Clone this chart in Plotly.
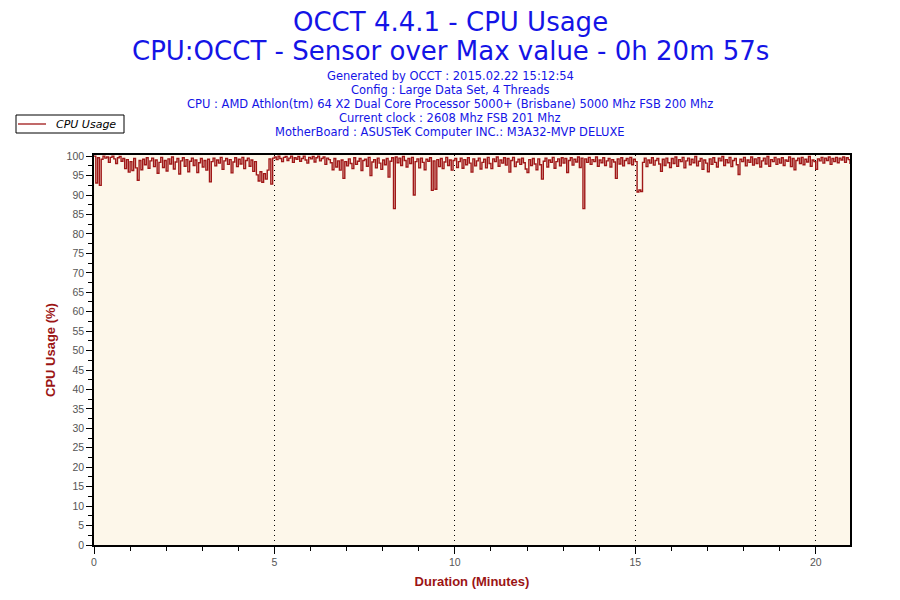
import plotly.graph_objects as go

# CPU usage samples (%), one every 3 seconds over 0h 20m 57s
sample_seconds = 3
cpu_usage = [
    100, 93.1, 99.6, 92.5, 99.2, 100, 99.5, 99.8, 98.4, 99.7, 100, 99.3, 98.1, 99.6, 99.9, 98.7, 99.4, 96.8, 99.1, 95.9,
    98.6, 96.3, 99.4, 97.0, 93.8, 98.9, 96.5, 99.2, 97.8, 99.6, 96.9, 98.8, 99.5, 97.3, 99.0, 95.6, 98.4, 99.7, 97.1, 98.9,
    96.2, 99.3, 98.0, 99.8, 96.7, 98.5, 99.4, 95.4, 98.8, 99.6, 97.4, 99.1, 96.0, 98.7, 99.5, 97.6, 99.0, 95.8, 98.3, 99.4,
    97.2, 98.9, 96.4, 99.2, 93.4, 98.6, 99.5, 97.5, 99.0, 98.2, 99.7, 96.6, 98.8, 99.4, 97.9, 99.1, 95.7, 98.5, 99.6, 97.3,
    99.2, 98.0, 99.7, 96.8, 98.9, 99.5, 97.4, 99.0, 96.1, 98.6, 95.2, 93.6, 96.0, 93.3, 95.5, 94.1, 96.4, 99.3, 92.8, 99.5,
    99.8, 99.1, 100, 99.4, 98.6, 99.7, 99.9, 98.9, 99.5, 100, 98.4, 99.6, 99.2, 99.9, 98.7, 99.4, 100, 99.0, 98.2, 99.7,
    99.3, 99.9, 98.5, 99.6, 100, 98.8, 99.4, 99.8, 97.9, 99.5, 99.1, 98.3, 96.5, 99.4, 97.2, 98.8, 96.4, 99.0, 94.3, 98.6,
    97.5, 99.3, 98.1, 96.8, 99.6, 97.9, 98.7, 99.4, 96.3, 98.9, 99.2, 97.4, 99.7, 95.0, 98.5, 99.1, 97.0, 99.5, 98.2, 96.6,
    99.0, 97.8, 99.4, 94.6, 98.7, 99.6, 86.5, 99.8, 98.3, 99.5, 97.6, 99.9, 98.9, 97.2, 99.4, 98.1, 99.7, 90.0, 98.6, 99.3,
    97.0, 99.5, 98.4, 96.5, 99.2, 98.7, 99.6, 91.2, 98.8, 91.5, 99.1, 97.3, 99.4, 96.8, 98.5, 99.7, 97.6, 99.0, 96.4, 98.9,
    99.4, 97.1, 98.6, 99.5, 96.9, 99.1, 97.8, 99.6, 98.2, 95.9, 99.3, 97.5, 98.8, 99.5, 96.7, 98.4, 99.2, 97.0, 99.7, 98.1,
    96.8, 99.3, 98.6, 99.8, 97.4, 99.0, 98.2, 99.6, 97.7, 99.4, 95.9, 98.9, 99.7, 97.3, 98.5, 99.2, 97.9, 99.5, 98.3, 96.7,
    95.8, 99.1, 97.6, 99.4, 98.0, 96.5, 99.3, 97.8, 94.1, 98.7, 99.5, 97.2, 99.0, 98.4, 99.7, 96.9, 98.6, 99.3, 97.5, 99.6,
    98.2, 99.4, 95.8, 98.9, 99.6, 97.7, 99.2, 98.5, 99.8, 97.1, 99.5, 86.5, 99.3, 98.4, 99.7, 97.9, 99.1, 98.6, 99.8, 97.4,
    99.0, 98.3, 99.6, 97.6, 98.8, 99.4, 97.2, 99.1, 98.5, 94.3, 99.3, 98.0, 99.6, 97.5, 98.9, 99.4, 98.1, 99.7, 97.8, 99.2,
    98.6, 90.8, 91.3, 90.9, 98.4, 99.5, 97.3, 99.0, 98.2, 99.6, 97.7, 98.9, 99.4, 98.0, 96.1, 99.2, 97.6, 99.5, 98.3, 97.1,
    99.4, 98.1, 99.8, 97.4, 99.1, 98.6, 99.7, 97.0, 98.8, 99.5, 97.8, 99.2, 98.3, 99.9, 97.5, 98.7, 99.4, 96.6, 99.0, 98.2,
    96.0, 99.3, 97.9, 99.6, 98.4, 97.2, 99.5, 98.8, 99.9, 97.6, 99.1, 98.3, 99.7, 97.3, 98.9, 99.4, 97.8, 95.3, 99.2, 98.6,
    99.7, 97.5, 99.0, 98.4, 99.8, 97.7, 99.3, 98.1, 99.6, 97.2, 98.8, 99.5, 98.0, 99.9, 97.4, 99.1, 98.6, 99.7, 97.9, 99.3,
    98.2, 99.6, 97.6, 99.0, 98.7, 99.8, 97.3, 99.4, 96.5, 98.9, 99.5, 98.1, 99.7, 97.8, 99.2, 98.5, 99.9, 97.4, 99.0, 98.6,
    96.6, 99.3, 98.8, 99.7, 98.2, 99.5, 98.9, 99.8, 97.9, 99.4, 98.6, 99.7, 98.3, 99.5, 99.0, 99.8, 98.4, 99.6, 99.1, 98.0,
]
minutes = [i * sample_seconds / 60 for i in range(len(cpu_usage))]

title_lines = ["OCCT 4.4.1 - CPU Usage",
               "CPU:OCCT - Sensor over Max value - 0h 20m 57s"]
info_lines = [
    "Generated by OCCT : 2015.02.22 15:12:54",
    "Config : Large Data Set, 4 Threads",
    "CPU : AMD Athlon(tm) 64 X2 Dual Core Processor 5000+ (Brisbane) 5000 Mhz FSB 200 Mhz",
    "Current clock : 2608 Mhz FSB 201 Mhz",
    "MotherBoard : ASUSTeK Computer INC.: M3A32-MVP DELUXE",
]
legend_name = "CPU Usage"

FONT = "DejaVu Sans"
TICKFONT = "Liberation Sans"
BLUE = "#1414E6"
DARKRED = "#9B1414"
LINE = "#A01818"

# plot area on screen: x 94..850, y 155..545 (page has an 8px body margin)
def px_x(sx):
    return (sx - 94) / 756.0

def px_y(sy):
    return (545 - sy) / 390.0

fig = go.Figure()
fig.add_trace(go.Scatter(x=minutes, y=cpu_usage, mode="lines", name=legend_name,
                         showlegend=False, line=dict(color=LINE, width=1.4, shape="hv")))

annots = []
for k, txt in enumerate(title_lines):
    annots.append(dict(text=txt, x=px_x(450), xref="paper", y=px_y([22, 51][k]), yref="paper",
                       yanchor="middle", showarrow=False, borderpad=0,
                       font=dict(family=FONT, size=26, color=BLUE)))
for k, txt in enumerate(info_lines):
    annots.append(dict(text=txt, x=px_x(450), xref="paper", y=px_y(76 + 14 * k), yref="paper",
                       yanchor="middle", showarrow=False,
                       font=dict(family=FONT, size=11.5, color=BLUE)))
# hand drawn legend box
annots.append(dict(text=legend_name, x=px_x(54), xref="paper", y=px_y(124), yref="paper",
                   xanchor="left", yanchor="middle", showarrow=False,
                   font=dict(family=FONT, size=11, color="black", style="italic")))
shapes = [
    dict(type="rect", xref="paper", yref="paper", x0=px_x(16), x1=px_x(124),
         y0=px_y(133), y1=px_y(115), line=dict(color="black", width=1), fillcolor="white"),
    dict(type="line", xref="paper", yref="paper", x0=px_x(18), x1=px_x(46),
         y0=px_y(124), y1=px_y(124), line=dict(color=LINE, width=1.3)),
]

fig.update_layout(
    width=892, height=592,
    margin=dict(l=86, r=50, t=147, b=55, autoexpand=False),
    paper_bgcolor="white",
    plot_bgcolor="#FDF7EA",
    annotations=annots,
    shapes=shapes,
    showlegend=False,
    xaxis=dict(range=[0, 20.95], dtick=5, tick0=0,
               showline=True, linecolor="black", linewidth=1.5, mirror=True,
               ticks="outside", ticklen=7, tickcolor="black", tickwidth=1.3,
               showgrid=True, gridcolor="black", griddash="1px,4px", gridwidth=1,
               zeroline=False,
               minor=dict(dtick=1, ticks="outside", ticklen=4, tickcolor="black", showgrid=False),
               tickfont=dict(family=TICKFONT, size=10.5, color="#555555"),
               title=dict(text="<b>Duration (Minutes)</b>", standoff=10,
                          font=dict(family="Liberation Sans", size=13, color=DARKRED))),
    yaxis=dict(range=[0, 100.3], dtick=5, tick0=0,
               showline=True, linecolor="black", linewidth=1.5, mirror=True,
               ticks="outside", ticklen=6, tickcolor="black", tickwidth=1.3,
               showgrid=False, zeroline=False,
               minor=dict(dtick=2.5, ticks="outside", ticklen=4, tickcolor="black", showgrid=False),
               tickfont=dict(family=TICKFONT, size=10.5, color="#555555"),
               title=dict(text="<b>CPU Usage (%)</b>", standoff=8,
                          font=dict(family="Liberation Sans", size=13, color=DARKRED))),
    # overlaid axes give the inner half of the crossing tick marks
    xaxis2=dict(overlaying="x", anchor="y", side="bottom", range=[0, 20.95], dtick=5, tick0=0,
                ticks="inside", ticklen=6, tickcolor="black", tickwidth=1.3,
                showticklabels=False, showgrid=False, zeroline=False, showline=False,
                minor=dict(dtick=1, ticks="inside", ticklen=4, tickcolor="black")),
    yaxis2=dict(overlaying="y", anchor="x", side="left", range=[0, 100.3], dtick=5, tick0=0,
                ticks="inside", ticklen=5, tickcolor="black", tickwidth=1.3,
                showticklabels=False, showgrid=False, zeroline=False, showline=False,
                minor=dict(dtick=2.5, ticks="inside", ticklen=4, tickcolor="black")),
)

fig.write_html("out.html")
